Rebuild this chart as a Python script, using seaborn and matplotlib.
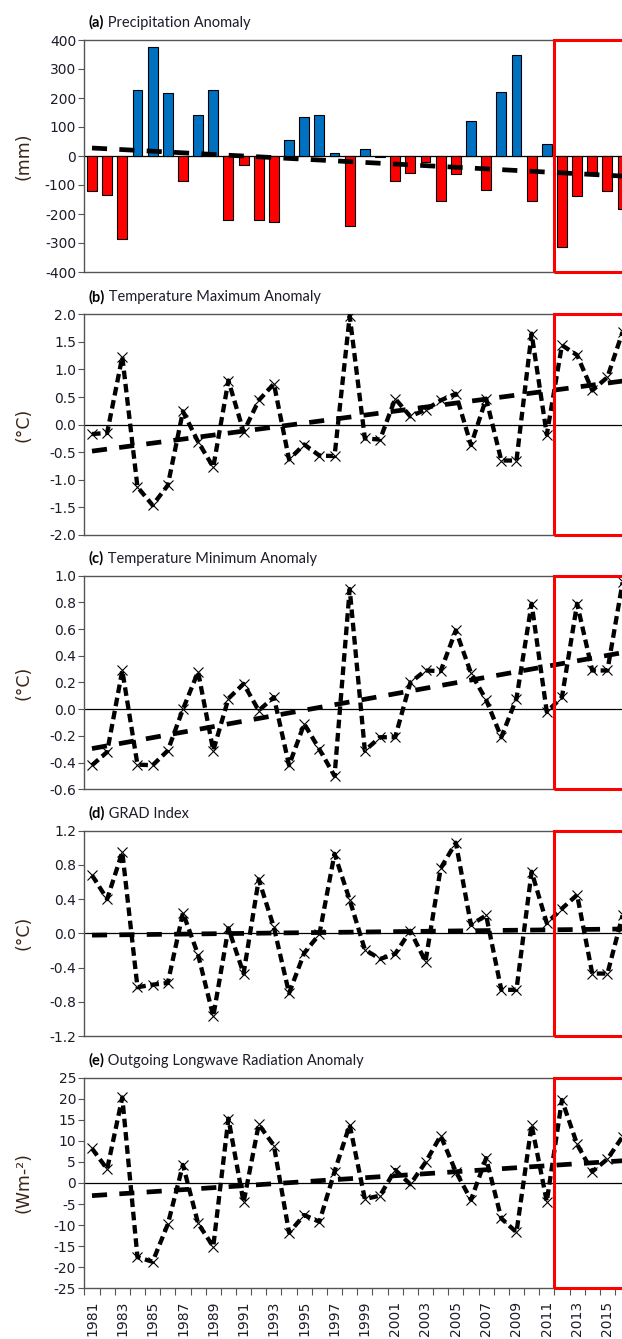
import numpy as np
import pandas as pd
import matplotlib
matplotlib.use("Agg")
import matplotlib.pyplot as plt
from matplotlib.patches import Rectangle
from matplotlib.ticker import FixedLocator, FormatStrFormatter
import seaborn as sns

# --- Data ---
years = list(range(1981, 2017))

precip = [-122, -133, -286, 226, 375, 216, -86, 141, 226, -221,
          -30, -221, -226, 56, 136, 141, 9, -240, 23, -3,
          -86, -57, -19, -155, -61, 121, -118, 221, 347, -155,
          42, -314, -137, -55, -122, -183]

tmax = [-0.17, -0.15, 1.23, -1.13, -1.46, -1.10, 0.24, -0.31, -0.77, 0.80,
        -0.13, 0.44, 0.74, -0.63, -0.36, -0.56, -0.57, 1.97, -0.25, -0.27,
        0.47, 0.15, 0.27, 0.44, 0.56, -0.37, 0.47, -0.65, -0.65, 1.65,
        -0.18, 1.44, 1.26, 0.62, 0.86, 1.68]

tmin = [-0.42, -0.32, 0.29, -0.415, -0.42, -0.31, 0.0, 0.28, -0.31, 0.08,
        0.19, -0.01, 0.09, -0.42, -0.11, -0.30, -0.50, 0.90, -0.31, -0.21,
        -0.21, 0.20, 0.29, 0.285, 0.59, 0.27, 0.07, -0.21, 0.08, 0.79,
        -0.02, 0.09, 0.79, 0.29, 0.29, 0.95]

grad = [0.68, 0.40, 0.95, -0.63, -0.60, -0.58, 0.24, -0.25, -0.97, 0.06,
        -0.47, 0.63, 0.07, -0.70, -0.23, -0.01, 0.93, 0.39, -0.19, -0.30,
        -0.24, 0.03, -0.33, 0.76, 1.06, 0.10, 0.21, -0.66, -0.66, 0.72,
        0.12, 0.29, 0.45, -0.47, -0.47, 0.21]

olr = [8.2, 3.3, 20.3, -17.6, -18.7, -9.8, 4.3, -9.6, -15.1, 15.3,
       -4.6, 13.9, 8.9, -11.8, -7.6, -9.2, 2.7, 13.8, -3.8, -3.0,
       3.1, -0.3, 4.9, 11.2, 2.7, -4.0, 5.9, -8.4, -11.7, 13.8,
       -4.4, 19.7, 9.2, 2.7, 5.7, 11.0]

titles = ["(a)", "(b)", "(c)", "(d)", "(e)"]
names = ["Precipitation Anomaly", "Temperature Maximum Anomaly",
         "Temperature Minimum Anomaly", "GRAD Index",
         "Outgoing Longwave Radiation Anomaly"]
ylabels = ["(mm)", "(°C)", "(°C)", "(°C)", "(Wm-²)"]
yticks = [np.arange(-400, 401, 100), np.arange(-2.0, 2.01, 0.5),
          np.arange(-0.6, 1.01, 0.2), np.arange(-1.2, 1.21, 0.4),
          np.arange(-25, 26, 5)]
yfmt = ["%d", "%.1f", "%.1f", "%.1f", "%d"]
highlight_start = 2011.5

# --- Style ---
sns.set_style("ticks")
plt.rcParams["font.family"] = ["DejaVu Sans"]
plt.rcParams["axes.unicode_minus"] = False

TXT = "#1c1c2a"
SPINE = "#555555"

fig = plt.figure(figsize=(6.22, 13.39), dpi=100)
H = 1339.0
W = 622.0
left_px = 84.4
xmax = 1980.5 + (W - left_px) / 15.16
boxes = [(40, 272), (314.3, 535), (575.7, 789.3), (830.7, 1036), (1077.7, 1288.3)]

series = [precip, tmax, tmin, grad, olr]
for k, (top, bot) in enumerate(boxes):
    ax = fig.add_axes([left_px / W, 1 - bot / H, 1 - left_px / W, (bot - top) / H])
    vals = series[k]

    ax.axhline(0, color="black", lw=0.9, zorder=1)

    if k == 0:
        df = pd.DataFrame({"year": years, "value": vals,
                           "sign": np.where(np.array(vals) >= 0, "wet", "dry")})
        sns.barplot(data=df, x="year", y="value", hue="sign", native_scale=True,
                    palette={"wet": "#0070c0", "dry": "#ff0000"}, dodge=False,
                    saturation=1, width=0.65, edgecolor="black", linewidth=0.8,
                    legend=False, ax=ax, zorder=2)
    else:
        sns.lineplot(x=years, y=vals, color="black", lw=3.1,
                     linestyle=(0, (2.0, 1.1)), marker="x", markersize=7,
                     markeredgecolor="black", markeredgewidth=0.8, ax=ax, zorder=3)

    # linear trend
    sns.regplot(x=years, y=vals, scatter=False, ci=None, ax=ax,
                line_kws=dict(color="black", lw=3.4, linestyle=(0, (3.2, 2.6)),
                              zorder=4))

    lo, hi = yticks[k][0], yticks[k][-1]
    ax.yaxis.set_major_locator(FixedLocator(yticks[k]))
    ax.yaxis.set_major_formatter(FormatStrFormatter(yfmt[k]))
    ax.tick_params(axis="y", direction="out", length=4, width=0.8, color=SPINE,
                   labelsize=10, labelcolor=TXT, pad=2)
    ax.set_xlabel("")
    ax.set_ylabel(ylabels[k], fontsize=12.5, color="#3a2418", va="center")
    ax.yaxis.set_label_coords((23 - left_px) / (W - left_px), 0.5)

    for s in ["top", "bottom", "left"]:
        ax.spines[s].set_color(SPINE)
        ax.spines[s].set_linewidth(1.0)
    ax.spines["right"].set_visible(False)

    ax.add_patch(Rectangle((highlight_start, lo), 10, hi - lo, fill=False,
                           edgecolor="red", lw=2.2, clip_on=False, zorder=6))

    t1 = ax.annotate(titles[k], xy=(0, 1), xycoords="axes fraction",
                     xytext=(3, 9.5), textcoords="offset points",
                     ha="left", va="baseline", fontsize=10.5, fontweight="bold",
                     color="black", family="Lato")
    ax.annotate(" " + names[k], xy=(1, 0), xycoords=t1, ha="left", va="bottom",
                fontsize=10.5, color=TXT, family="Lato")

    if k < 4:
        ax.tick_params(axis="x", which="both", length=0, labelbottom=False)
    else:
        ax.set_xticks(years[::2])
        ax.set_xticklabels([str(y) for y in years[::2]], rotation=90)
        ax.set_xticks(np.arange(1980.5, 2016.6, 1.0), minor=True)
        ax.tick_params(axis="x", which="major", length=0, labelsize=10,
                       labelcolor=TXT, pad=9)
        ax.tick_params(axis="x", which="minor", direction="out", length=5,
                       width=0.8, color=SPINE)

    ax.set_ylim(lo, hi)
    ax.set_xlim(1980.5, xmax)

fig.savefig("out.png", dpi=100)
